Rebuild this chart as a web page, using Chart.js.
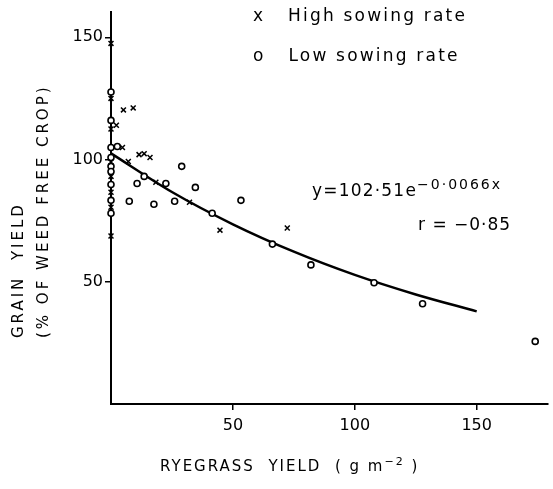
<!DOCTYPE html>
<html lang="en">
<head>
  <meta charset="UTF-8" />
  <title>Grain yield vs ryegrass yield</title>
  <style>
    body {
      margin: 0;
      padding: 0;
      background: #fff;
      font-family: "DejaVu Sans", sans-serif;
      color: #000;
    }
    #wrap {
      position: relative;
      width: 553px;
      height: 489px;
    }
    .lbl {
      position: absolute;
      white-space: nowrap;
      letter-spacing: 2.2px;
    }
    .rot {
      position: absolute;
      white-space: nowrap;
      transform-origin: left top;
      transform: rotate(-90deg);
      letter-spacing: 3px;
      font-size: 15px;
    }
  </style>
</head>
<body>
  <div id="wrap">
    <canvas id="chart" width="553" height="489"></canvas>

    <div class="lbl" style="left:253px; top:5px; font-size:17px;">x&nbsp;&nbsp;&nbsp;High sowing rate</div>
    <div class="lbl" style="left:253px; top:45px; font-size:17px;">o&nbsp;&nbsp;&nbsp;Low sowing rate</div>

    <div class="lbl" style="left:312px; top:176px; font-size:17px; letter-spacing:1.2px;">y=102·51e<sup style="font-size:14px; letter-spacing:2px;">−0·0066x</sup></div>
    <div class="lbl" style="left:418px; top:214px; font-size:17px; letter-spacing:1px;">r = −0·85</div>

    <div class="rot" style="left:9px; top:338px;">GRAIN&nbsp;&nbsp;YIELD</div>
    <div class="rot" style="left:34px; top:338px;">(% OF WEED FREE CROP)</div>

    <div class="lbl" style="left:160px; top:455px; font-size:15px; letter-spacing:2px;">RYEGRASS&nbsp;&nbsp;YIELD&nbsp;&nbsp;( g m<sup style="font-size:11px;">−2</sup> )</div>
  </div>

  <script src="https://cdn.jsdelivr.net/npm/chart.js"></script>
  <script>
    // values
    const highX = [0, 0, 0, 2.2, 5.1, 9.1, 4.7, 0, 0, 0, 0, 0, 7.1, 11.5, 13.6, 16, 18.4, 32.2, 44.7, 72.3];
    const highY = [147.5, 125, 112.5, 114, 120.3, 121.1, 104.9, 99, 93.1, 86.6, 80.5, 68.7, 99.2, 102, 102.4, 100.8, 90.7, 82.5, 71.1, 72];

    const lowX = [0, 0, 0, 2.6, 0, 0, 0, 0, 0, 0, 7.5, 10.7, 13.6, 17.6, 22.5, 26.1, 29, 34.6, 41.5, 53.3, 66.2, 82, 107.9, 127.8, 174];
    const lowY = [127.6, 116, 104.9, 105.3, 100.8, 97.2, 95.1, 89.8, 83.3, 78, 82.9, 90.2, 93.1, 81.7, 90.2, 82.9, 97.2, 88.6, 78, 83.3, 65.4, 56.9, 49.6, 41, 25.6];

    // fitted curve, points
    const fitX = [0, 25, 50, 75, 100, 125, 150];
    const fitY = [102.5, 86.7, 73.5, 62.3, 52.8, 44.8, 37.9];

    const xTicks = [50, 100, 150];
    const yTicks = [50, 100, 150];

    const pts = (xs, ys) => xs.map((x, i) => ({ x: x, y: ys[i] }));
    const fontFam = "'DejaVu Sans', sans-serif";

    new Chart(document.getElementById("chart"), {
      type: "scatter",
      data: {
        datasets: [
          {
            label: "High sowing rate",
            data: pts(highX, highY),
            pointStyle: "crossRot",
            pointRadius: 3.5,
            borderColor: "#000",
            borderWidth: 1.5,
            clip: false
          },
          {
            label: "Low sowing rate",
            data: pts(lowX, lowY),
            pointStyle: "circle",
            pointRadius: 3,
            backgroundColor: "#fff",
            borderColor: "#000",
            borderWidth: 1.6,
            clip: false
          },
          {
            label: "fit",
            data: pts(fitX, fitY),
            showLine: true,
            pointRadius: 0,
            borderColor: "#000",
            borderWidth: 2.5,
            cubicInterpolationMode: "monotone",
            clip: false
          }
        ]
      },
      options: {
        responsive: false,
        animation: false,
        layout: { padding: { top: 5, right: 0, left: 0, bottom: 0 } },
        plugins: {
          legend: { display: false },
          tooltip: { enabled: false }
        },
        scales: {
          x: {
            type: "linear",
            min: 0,
            max: 179,
            afterBuildTicks: (s) => { s.ticks = xTicks.map(v => ({ value: v })); },
            afterFit: (s) => { s.height = 85; },
            border: { display: true, color: "#000", width: 2 },
            grid: { drawOnChartArea: false, drawTicks: true, tickLength: 6, color: "#000", lineWidth: 1.5 },
            ticks: { color: "#000", font: { family: fontFam, size: 16 }, padding: 6, maxRotation: 0 }
          },
          y: {
            type: "linear",
            min: 0,
            max: 160.5,
            afterBuildTicks: (s) => { s.ticks = yTicks.map(v => ({ value: v })); },
            afterFit: (s) => { s.width = 111; },
            border: { display: true, color: "#000", width: 2 },
            grid: { drawOnChartArea: false, drawTicks: true, tickLength: 6, color: "#000", lineWidth: 1.5 },
            ticks: { color: "#000", font: { family: fontFam, size: 16 }, padding: 2 }
          }
        }
      }
    });
  </script>
</body>
</html>
